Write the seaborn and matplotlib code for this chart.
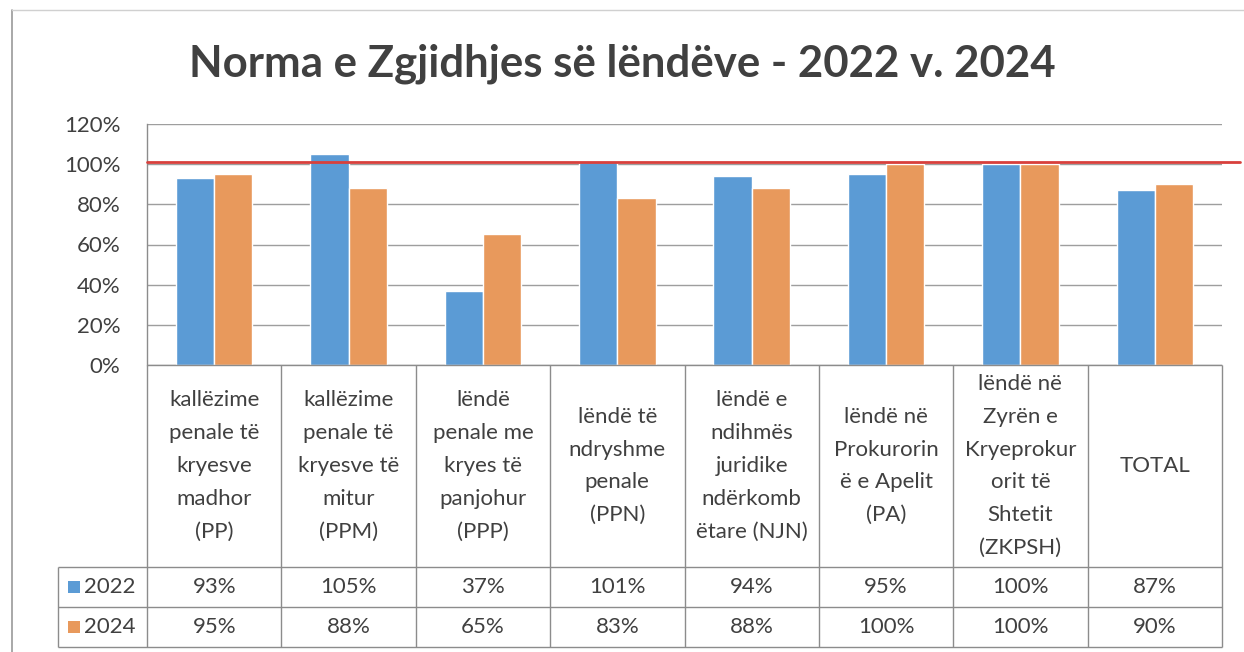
import matplotlib
matplotlib.use('Agg')
import matplotlib.pyplot as plt
import seaborn as sns
import pandas as pd
from matplotlib.lines import Line2D
from matplotlib.patches import Rectangle


# ----------------------------------------------Chart data-----------------------------------------------

codes = ['PP', 'PPM', 'PPP', 'PPN', 'NJN', 'PA', 'ZKPSH', 'TOTAL']
labels = [
	'kallëzime\npenale të\nkryesve\nmadhor\n(PP)',
	'kallëzime\npenale të\nkryesve të\nmitur\n(PPM)',
	'lëndë\npenale me\nkryes të\npanjohur\n(PPP)',
	'lëndë të\nndryshme\npenale\n(PPN)',
	'lëndë e\nndihmës\njuridike\nndërkomb\nëtare (NJN)',
	'lëndë në\nProkurorin\në e Apelit\n(PA)',
	'lëndë në\nZyrën e\nKryeprokur\norit të\nShtetit\n(ZKPSH)',
	'TOTAL',
]
years = ['2022', '2024']
rate_2022 = [93, 105, 37, 101, 94, 95, 100, 87]
rate_2024 = [95, 88, 65, 83, 88, 100, 100, 90]
target = 101

colors = ['#5B9BD5', '#E8995C']
text_color = '#404040'
line_color = '#8c8c8c'

df = pd.DataFrame({
	'code': codes * 2,
	'year': [years[0]] * len(codes) + [years[1]] * len(codes),
	'rate': rate_2022 + rate_2024,
})

# ----------------------------------------------Figure-----------------------------------------------

sns.set_theme(style='white')
plt.rcParams['font.family'] = ['Lato', 'DejaVu Sans']

W, H = 1244, 652
fig = plt.figure(figsize=(W / 100, H / 100), dpi=100)

# pixel layout
left, right = 147, 1222
top, zero = 124, 365
table_bottom = 647
fs = 16

ax = fig.add_axes([left / W, 1 - zero / H, (right - left) / W, (zero - top) / H])

sns.barplot(data=df, x='code', y='rate', hue='year', order=codes, hue_order=years,
			palette=colors, width=0.57, saturation=1, errorbar=None, legend=False,
			ax=ax, zorder=3)

ax.set_ylim(0, 120)
ax.set_xlim(-0.5, len(codes) - 0.5)
ax.set_yticks(range(0, 121, 20))
ax.set_yticklabels([f'{v}%' for v in range(0, 121, 20)], fontsize=fs, color=text_color)
ax.set_xticks([])
ax.set_xlabel('')
ax.set_ylabel('')
ax.tick_params(axis='y', length=0, pad=19)
ax.yaxis.grid(True, color='#9e9e9e', linewidth=1)
ax.set_axisbelow(True)
for side in ['top', 'right', 'bottom']:
	ax.spines[side].set_visible(False)
ax.spines['left'].set_color(line_color)
ax.spines['left'].set_linewidth(1)

# target line runs a bit past the plot area
ax.plot([0, (1240 - left) / (right - left)], [target, target], color='#d8403c', linewidth=2,
		transform=ax.get_yaxis_transform(), clip_on=False, zorder=4)

fig.suptitle('Norma e Zgjidhjes së lëndëve - 2022 v. 2024', x=0.5, y=1 - 64 / H, va='center',
			 fontsize=31.5, fontweight='bold', color=text_color)

# ----------------------------------------------Data table-----------------------------------------------

tax = fig.add_axes([left / W, 1 - table_bottom / H, (right - left) / W, (table_bottom - zero) / H])
tax.set_xlim(-0.5, len(codes) - 0.5)
tax.set_ylim(table_bottom - zero, 0)
tax.axis('off')

unit = (right - left) / len(codes)
leg_left = -0.5 - (left - 58) / unit
row1, row2, row3 = 202, 242, 282

tax.vlines([i - 0.5 for i in range(len(codes) + 1)], 0, row3, color=line_color, linewidth=1, clip_on=False)
tax.vlines([leg_left], row1, row3, color=line_color, linewidth=1, clip_on=False)
tax.hlines([0], -0.5, len(codes) - 0.5, color=line_color, linewidth=1, clip_on=False)
tax.hlines([row1, row2, row3], leg_left, len(codes) - 0.5, color=line_color, linewidth=1, clip_on=False)

for i, lab in enumerate(labels):
	tax.text(i, row1 / 2, lab, ha='center', va='center', fontsize=fs, color=text_color,
			 linespacing=1.8, multialignment='center')

for r, (vals, y0, y1) in enumerate([(rate_2022, row1, row2), (rate_2024, row2, row3)]):
	yc = (y0 + y1) / 2
	for i, v in enumerate(vals):
		tax.text(i, yc, f'{v}%', ha='center', va='center', fontsize=fs, color=text_color)
	sq = 12 / unit
	tax.add_patch(Rectangle((leg_left + 10 / unit, yc - 6), sq, 12, facecolor=colors[r],
							edgecolor='none', clip_on=False))
	tax.text(leg_left + 26 / unit, yc, years[r], ha='left', va='center', fontsize=fs,
			 color=text_color, clip_on=False)

# outer chart frame (partly cut off in the scan)
fig.add_artist(Line2D([12 / W, 12 / W], [0, 1 - 10 / H], color='#9a9a9a', linewidth=1.2))
fig.add_artist(Line2D([12 / W, 1], [1 - 10 / H, 1 - 10 / H], color='#d0d0d0', linewidth=1))

fig.savefig('out.png', dpi=100)
